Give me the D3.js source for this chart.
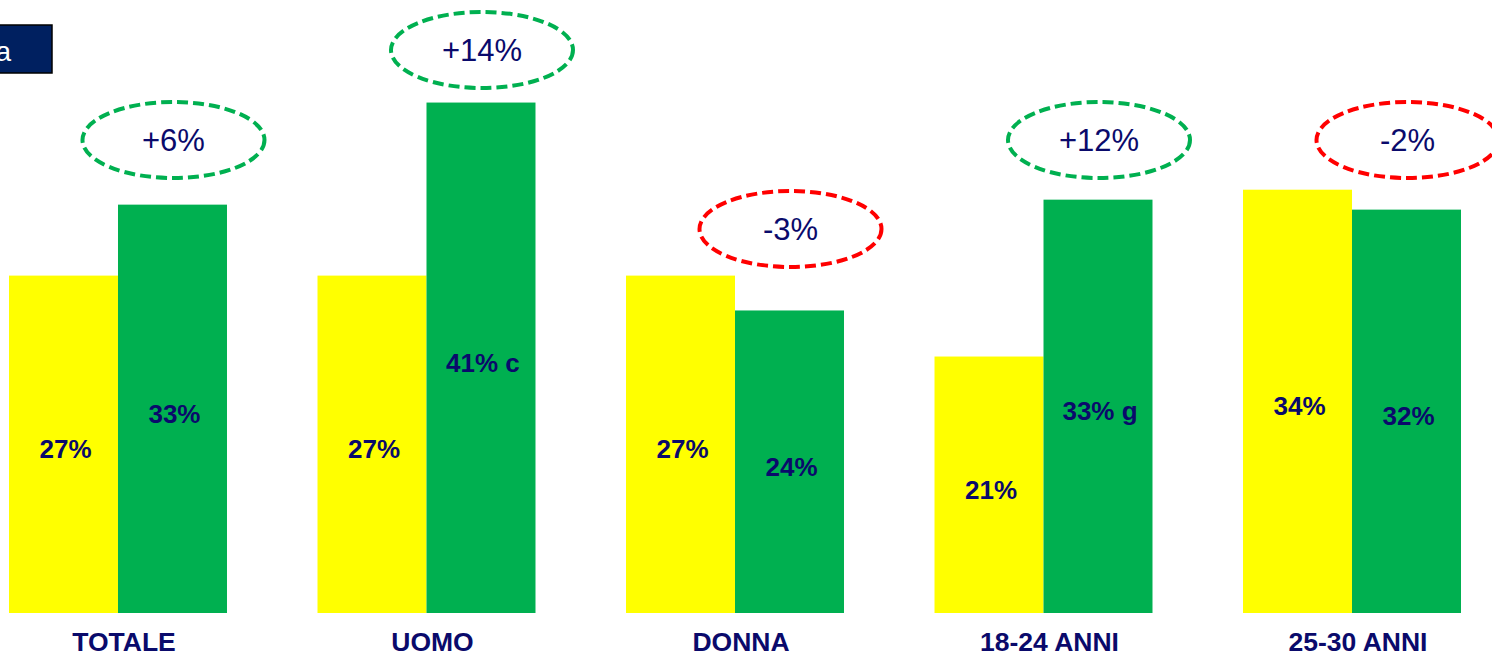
<!DOCTYPE html>
<html>
<head>
<meta charset="utf-8">
<script src="https://d3js.org/d3.v7.min.js"></script>
<style>
  body { margin: 0; background: #fff; overflow: hidden; }
  svg { display: block; font-family: "Liberation Sans", Arial, sans-serif; }
</style>
</head>
<body>
<svg id="chart" width="1492" height="654"></svg>
<script>
// data
var categories = ["TOTALE", "UOMO", "DONNA", "18-24 ANNI", "25-30 ANNI"];
var series = ["prima", "dopo"];
var valuesPrima = [27.1, 27.1, 27.1, 20.6, 34.0];
var valuesDopo = [32.8, 41.0, 24.3, 33.2, 32.4];
var labelsPrima = ["27%", "27%", "27%", "21%", "34%"];
var labelsDopo = ["33%", "41% c", "24%", "33% g", "32%"];
var deltas = ["+6%", "+14%", "-3%", "+12%", "-2%"];

// layout
var W = 1492, H = 654;
var baseY = 613;
var bubbleY = [140, 50, 229, 140, 140];
var navy = "#0a0a6b";
var colors = { prima: "#FFFF00", dopo: "#00B050" };

var svg = d3.select("#chart");

var x0 = d3.scaleBand()
  .domain(categories)
  .range([9, 1461])
  .paddingInner(0.2934)
  .paddingOuter(0);

var x1 = d3.scaleBand()
  .domain(series)
  .range([0, x0.bandwidth()]);

var y = d3.scaleLinear()
  .domain([0, 50])
  .range([baseY, baseY - 12.45 * 50]);

// header box, cut off on the left
svg.append("rect")
  .attr("x", -300).attr("y", 25)
  .attr("width", 352).attr("height", 48)
  .attr("fill", "#002060")
  .attr("stroke", "#000").attr("stroke-width", 1.5);
svg.append("text")
  .attr("x", 11).attr("y", 61)
  .attr("text-anchor", "end")
  .attr("fill", "#fff")
  .style("font-size", "28px")
  .text("a");

var rows = categories.map(function(c, i) {
  return {
    cat: c,
    bars: [
      { s: "prima", v: valuesPrima[i], label: labelsPrima[i] },
      { s: "dopo", v: valuesDopo[i], label: labelsDopo[i] }
    ],
    delta: deltas[i],
    i: i
  };
});

var g = svg.selectAll("g.grp")
  .data(rows)
  .enter()
  .append("g")
  .attr("class", "grp")
  .attr("transform", function(d) { return "translate(" + x0(d.cat) + ",0)"; });

g.selectAll("rect")
  .data(function(d) { return d.bars; })
  .enter()
  .append("rect")
  .attr("x", function(d) { return x1(d.s); })
  .attr("y", function(d) { return y(d.v); })
  .attr("width", x1.bandwidth())
  .attr("height", function(d) { return baseY - y(d.v); })
  .attr("fill", function(d) { return colors[d.s]; });

g.selectAll("text.val")
  .data(function(d) { return d.bars; })
  .enter()
  .append("text")
  .attr("class", "val")
  .attr("x", function(d) { return x1(d.s) + x1.bandwidth() / 2 + 2; })
  .attr("y", function(d) { return (y(d.v) + baseY) / 2 + 14; })
  .attr("text-anchor", "middle")
  .attr("fill", navy)
  .style("font-size", "26px")
  .style("font-weight", "bold")
  .text(function(d) { return d.label; });

// category labels
g.append("text")
  .attr("x", x0.bandwidth() / 2 + 6)
  .attr("y", 651)
  .attr("text-anchor", "middle")
  .attr("fill", navy)
  .style("font-size", "26.5px")
  .style("font-weight", "bold")
  .text(function(d) { return d.cat; });

// change bubbles
var bx = function(d) { return x1("dopo") + x1.bandwidth() / 2 + 1; };

g.append("ellipse")
  .attr("cx", bx)
  .attr("cy", function(d) { return bubbleY[d.i]; })
  .attr("rx", 91)
  .attr("ry", 38)
  .attr("fill", "none")
  .attr("stroke", function(d) { return d.delta.charAt(0) == "-" ? "#FF0000" : "#00B050"; })
  .attr("stroke-width", 4)
  .attr("stroke-dasharray", "11,5");

g.append("text")
  .attr("x", bx)
  .attr("y", function(d) { return bubbleY[d.i] + 11; })
  .attr("text-anchor", "middle")
  .attr("fill", navy)
  .style("font-size", "31px")
  .text(function(d) { return d.delta; });
</script>
</body>
</html>
